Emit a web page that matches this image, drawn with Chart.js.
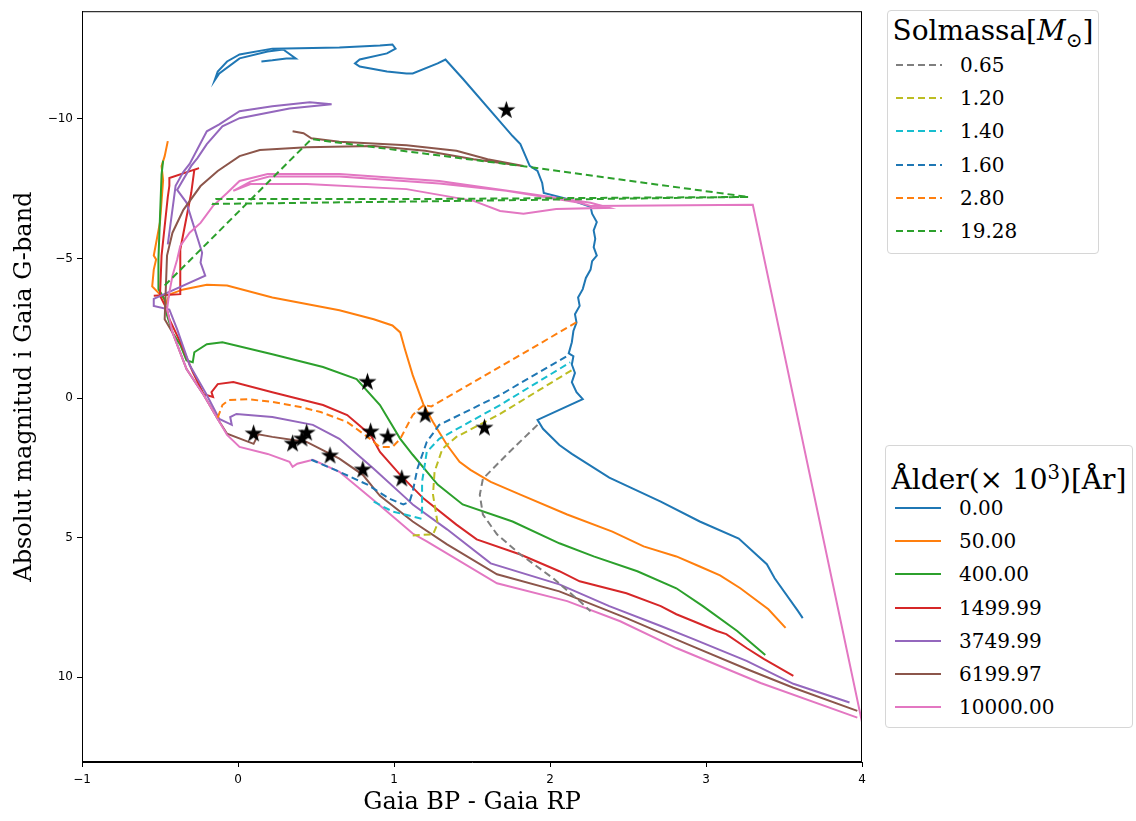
<!DOCTYPE html>
<html>
<head>
<meta charset="utf-8">
<script src="https://cdn.jsdelivr.net/npm/chart.js@4.4.1/dist/chart.umd.min.js"></script>
<style>
  body { margin: 0; background: #fff; width: 1136px; height: 821px; position: relative; overflow: hidden; font-family: 'DejaVu Serif', serif; }
  #wrap { position: absolute; left: 0; top: 0; width: 880px; height: 821px; }
  .legend { position: absolute; border: 1px solid #d6d6d6; border-radius: 4px; background: #fff; }
  .legend .title { position: absolute; left: 0; right: 0; text-align: center; font-size: 28px; line-height: 34px; white-space: nowrap; }
  .legend .row { position: absolute; height: 30px; display: flex; align-items: center; font-size: 20px; white-space: nowrap; }
  .legend .row svg { display: block; }
</style>
</head>
<body>
<div id="wrap"><canvas id="hrChart" width="880" height="821"></canvas></div>
<div class="legend" id="massLegend" style="left:887px; top:10px; width:210px; height:242px;">
  <div class="title" style="top:3px;">Solmassa[<i>M</i><sub style="font-size:0.72em">⊙</sub>]</div>
</div>
<div class="legend" id="ageLegend" style="left:885px; top:445px; width:246px; height:281px;">
  <div class="title" style="top:10px;">Ålder(× 10<sup style="font-size:0.7em">3</sup>)[År]</div>
</div>
<script>
// AXES
const xTicks = [-1, 0, 1, 2, 3, 4];
const yTicks = [-10, -5, 0, 5, 10];

// ISOCHRONES (x = BP-RP, y = M_G)
const ageLabels = ['0.00', '50.00', '400.00', '1499.99', '3749.99', '6199.97', '10000.00'];
const ageColors = ['#1f77b4', '#ff7f0e', '#2ca02c', '#d62728', '#9467bd', '#8c564b', '#e377c2'];

const age0 = [[3.62,7.88],[3.59,7.63],[3.44,6.45],[3.39,5.95],[3.21,5.03],[2.96,4.42],[2.71,3.71],[2.38,2.85],[2.14,2.0],[2.06,1.68],
  [1.955,1.10],[1.92,0.78],[2.21,0.04],[2.17,-0.21],[2.14,-0.57],[2.16,-0.9],[2.14,-1.2],[2.15,-1.5],[2.12,-1.6],[2.14,-2.0],
  [2.15,-2.4],[2.17,-2.7],[2.16,-3.0],[2.19,-3.3],[2.18,-3.6],[2.21,-3.9],[2.23,-4.3],[2.26,-4.6],[2.27,-4.9],[2.30,-5.1],
  [2.28,-5.4],[2.29,-5.7],[2.28,-6.0],[2.30,-6.3],[2.27,-6.6],[2.26,-6.85],[2.11,-7.13],[1.96,-7.34],[1.95,-7.70],[1.92,-8.13],
  [1.87,-8.31],[1.81,-9.09],[1.76,-9.38],[1.44,-11.44],[1.33,-12.12],[1.28,-11.98],[1.12,-11.62],[1.08,-11.62],[0.955,-11.69],
  [0.78,-11.87],[0.75,-11.98],[0.78,-12.12],[0.955,-12.34],[1.01,-12.51],[0.99,-12.66],[0.91,-12.62],[0.65,-12.55],[0.22,-12.51],
  [0.01,-12.30],[-0.07,-12.05],[-0.13,-11.69],[-0.15,-11.37],[-0.12,-11.62],[0.01,-12.16],[0.19,-12.41],[0.29,-12.48],
  [0.37,-12.16],[0.31,-12.16],[0.22,-12.09],[0.15,-12.05]];
const age50 = [[3.51,8.23],[3.40,7.56],[3.22,6.81],[3.09,6.35],[2.96,6.03],[2.81,5.67],[2.60,5.31],[2.40,4.78],[2.11,4.17],[1.81,3.46],
  [1.62,3.0],[1.49,2.57],[1.42,2.28],[1.34,1.68],[1.25,0.86],[1.19,0.25],[1.12,-0.82],[1.07,-1.75],[1.04,-2.35],[0.99,-2.60],
  [0.87,-2.82],[0.65,-3.14],[0.22,-3.60],[-0.07,-4.03],[-0.20,-4.06],[-0.35,-3.89],[-0.44,-3.71],[-0.46,-3.4],[-0.48,-3.6],
  [-0.55,-4.0],[-0.54,-4.6],[-0.525,-4.96],[-0.54,-5.1],[-0.50,-6.3],[-0.48,-7.8],[-0.49,-8.3],[-0.47,-8.66],[-0.45,-9.2]];
const age400 = [[3.38,9.2],[3.20,8.34],[2.98,7.45],[2.81,6.81],[2.56,6.20],[2.28,5.67],[2.06,5.20],[1.76,4.42],[1.44,3.81],[1.28,3.10],
  [1.12,2.03],[1.04,1.46],[0.91,0.25],[0.76,-0.68],[0.545,-1.11],[0.22,-1.57],[-0.10,-2.0],[-0.20,-1.93],[-0.28,-1.64],
  [-0.29,-1.28],[-0.33,-1.35],[-0.37,-1.9],[-0.42,-2.35],[-0.455,-2.96],[-0.47,-3.53],[-0.51,-3.9],[-0.51,-5.0],[-0.50,-6.5],
  [-0.49,-8.0],[-0.48,-8.5]];
const age1500 = [[3.56,9.95],[3.37,9.34],[3.26,8.95],[3.13,8.45],[3.07,8.34],[2.92,7.99],[2.81,7.74],[2.71,7.45],[2.49,6.99],[2.19,6.56],
  [2.06,6.20],[1.81,5.60],[1.53,5.06],[1.40,4.53],[1.19,3.60],[1.04,2.75],[0.91,1.93],[0.85,1.32],[0.70,0.61],[0.545,0.25],
  [0.22,-0.21],[-0.03,-0.57],[-0.13,-0.50],[-0.17,-0.21],[-0.16,-0.04],[-0.22,-0.14],[-0.29,-0.93],[-0.37,-2.0],[-0.44,-2.82],
  [-0.455,-3.17],[-0.5,-3.66],[-0.49,-5.1],[-0.45,-7.2],[-0.44,-7.6],[-0.44,-7.88],[-0.25,-8.23],[-0.28,-8.17],[-0.30,-7.34],
  [-0.37,-5.32],[-0.37,-3.72],[-0.54,-3.66]];
const age3750 = [[3.92,10.9],[3.56,10.23],[3.26,9.41],[2.92,8.63],[2.71,8.16],[2.38,7.45],[2.06,6.67],[1.62,5.92],[1.34,4.7],[1.12,3.81],
  [1.08,3.60],[0.87,2.53],[0.65,1.46],[0.48,0.96],[0.22,0.68],[-0.01,0.57],[-0.05,0.68],[-0.04,0.96],[-0.12,0.75],[-0.20,-0.11],
  [-0.31,-1.18],[-0.39,-2.46],[-0.44,-3.17],[-0.54,-3.3],[-0.54,-3.55],[-0.21,-4.38],[-0.24,-4.85],[-0.23,-5.2],[-0.31,-6.63],
  [-0.33,-7.0],[-0.39,-7.45],[-0.30,-8.31],[-0.26,-8.59],[-0.20,-9.09],[-0.10,-9.73],[0.01,-10.02],[0.33,-10.37],[0.60,-10.52],
  [0.46,-10.59],[0.22,-10.45],[0.01,-10.27],[-0.12,-9.80],[-0.20,-9.55],[-0.31,-8.38],[-0.35,-8.1],[-0.40,-7.6],[-0.45,-5.5]];
const age6200 = [[3.97,11.2],[3.56,10.37],[3.26,9.70],[2.88,8.81],[2.49,7.88],[2.06,6.92],[1.66,6.31],[1.34,5.24],[1.12,4.42],[0.91,3.5],
  [0.80,2.75],[0.65,2.17],[0.44,1.57],[0.22,1.39],[0.13,1.3],[0.10,1.64],[-0.07,1.28],[-0.13,0.75],[-0.22,-0.11],[-0.33,-1.04],
  [-0.42,-2.35],[-0.47,-2.82],[-0.455,-5.1],[-0.42,-5.92],[-0.35,-6.74],[-0.24,-7.59],[-0.13,-8.13],[0.01,-8.66],[0.14,-8.88],
  [0.44,-8.98],[0.87,-9.02],[1.20,-8.85],[1.51,-8.55],[1.83,-8.31],[1.60,-8.55],[1.40,-8.85],[1.08,-9.05],[0.65,-9.18],
  [0.47,-9.30],[0.42,-9.48],[0.35,-9.55]];
const age10000 = [[3.97,11.44],[3.35,10.20],[2.81,8.95],[2.45,7.99],[2.11,7.27],[1.66,6.63],[1.21,5.13],[1.12,4.85],[0.91,3.85],
  [0.65,2.64],[0.48,2.21],[0.38,2.35],[0.35,2.46],[0.33,2.28],[0.19,2.0],[0.01,1.75],[-0.07,1.32],[-0.13,0.75],[-0.22,-0.11],
  [-0.33,-1.04],[-0.42,-2.35],[-0.455,-3.17],[-0.44,-3.78],[-0.42,-4.38],[-0.39,-4.96],[-0.37,-5.45],[-0.31,-5.92],[-0.24,-6.27],
  [-0.16,-6.88],[-0.07,-7.34],[0.01,-7.77],[0.19,-8.02],[0.65,-8.02],[1.29,-7.77],[1.83,-7.34],[2.26,-6.99],[2.38,-6.81],
  [2.04,-6.77],[1.83,-6.60],[1.68,-6.70],[1.51,-7.06],[1.08,-7.48],[0.44,-7.66],[0.08,-7.66],[-0.03,-7.42],[0.08,-7.75],
  [0.2,-7.93],[0.65,-7.93],[1.29,-7.68],[1.72,-7.42],[2.19,-6.99],[2.26,-6.88],[3.30,-6.92],[4.0,11.6]];
const ageSeries = [age0, age50, age400, age1500, age3750, age6200, age10000];

// EVOLUTIONARY TRACKS (dashed)
const massLabels = ['0.65', '1.20', '1.40', '1.60', '2.80', '19.28'];
const massColors = ['#7f7f7f', '#bcbd22', '#17becf', '#1f77b4', '#ff7f0e', '#2ca02c'];

const m065 = [[1.92,0.96],[1.74,1.93],[1.57,2.89],[1.55,3.46],[1.57,4.17],[1.66,4.88],[1.81,5.60],[2.02,6.45],[2.19,7.27],[2.26,7.63]];
const m120 = [[1.12,4.92],[1.25,4.88],[1.28,4.5],[1.25,3.46],[1.26,2.64],[1.31,1.82],[1.40,1.39],[1.68,0.57],[2.14,-1.0]];
const m140 = [[0.87,3.71],[0.99,4.06],[1.17,4.31],[1.18,4.06],[1.18,3.0],[1.21,1.93],[1.29,1.46],[1.68,0.25],[2.13,-1.28]];
const m160 = [[0.47,2.21],[0.65,2.64],[0.83,3.10],[0.97,3.60],[1.06,3.81],[1.10,3.71],[1.12,3.35],[1.15,2.53],[1.21,1.57],
  [1.29,0.96],[1.68,-0.11],[2.13,-1.57]];
const m280 = [[-0.13,0.70],[-0.10,0.25],[-0.06,0.07],[0.06,0.04],[0.22,0.14],[0.40,0.32],[0.53,0.50],[0.70,0.86],[0.83,1.39],
  [0.91,1.75],[0.99,1.75],[1.04,1.46],[1.12,0.61],[1.15,0.45],[1.19,0.25],[1.24,0.3],[2.17,-2.71]];
const m1928 = [[-0.47,-4.03],[0.47,-9.27],[1.87,-8.27],[3.27,-7.20],[1.3,-7.05],[-0.16,-6.95],[-0.14,-7.13],[1.3,-7.13],[3.27,-7.20]];
const massSeries = [m065, m120, m140, m160, m280, m1928];

// STARS
const starX = [1.72, 0.83, 1.20, 1.58, 0.10, 0.44, 0.35, 0.41, 0.59, 0.80, 0.85, 0.96, 1.05];
const starY = [-10.30, -0.57, 0.61, 1.07, 1.28, 1.25, 1.64, 1.46, 2.07, 2.57, 1.21, 1.39, 2.89];

function toPoints(arr) { return arr.map(p => ({ x: p[0], y: p[1] })); }

function makeStar(r) {
    const c = document.createElement('canvas');
    const s = Math.ceil(r * 2 + 2);
    c.width = c.height = s;
    const g = c.getContext('2d');
    g.translate(s / 2, s / 2);
    g.beginPath();
    for (let i = 0; i < 10; i++) {
        const rad = i % 2 ? r * 0.382 : r;
        const a = -Math.PI / 2 + i * Math.PI / 5;
        g.lineTo(rad * Math.cos(a), rad * Math.sin(a));
    }
    g.closePath();
    g.fillStyle = '#000';
    g.fill();
    return c;
}

const datasets = [];
datasets.push({
    label: 'stars', data: starX.map((x, i) => ({ x, y: starY[i] })),
    showLine: false, pointStyle: makeStar(9.5), order: 0
});
massSeries.forEach((s, i) => datasets.push({
    label: massLabels[i], data: toPoints(s), showLine: true, borderColor: massColors[i],
    borderWidth: 2, borderDash: [7, 4], pointRadius: 0, tension: 0, order: 10 - i
}));
ageSeries.forEach((s, i) => datasets.push({
    label: ageLabels[i], data: toPoints(s), showLine: true, borderColor: ageColors[i],
    borderWidth: 2, pointRadius: 0, tension: 0, order: 30 - i
}));

// frame around the plot area
const frame = {
    id: 'frame',
    afterDraw(chart) {
        const { ctx, chartArea: a } = chart;
        ctx.save();
        ctx.strokeStyle = '#000';
        ctx.lineWidth = 1;
        ctx.strokeRect(a.left + 0.5, a.top + 0.5, a.right - a.left - 1, a.bottom - a.top - 1);
        ctx.restore();
    }
};

const minus = v => v < 0 ? '\u2212' + Math.abs(v) : String(v);

const ctx = document.getElementById('hrChart').getContext('2d');
new Chart(ctx, {
    type: 'scatter',
    data: { datasets },
    plugins: [frame],
    options: {
        responsive: false,
        animation: false,
        layout: { padding: { top: 8, right: 18, left: 0, bottom: 0 } },
        plugins: { legend: { display: false }, tooltip: { enabled: false } },
        scales: {
            x: {
                type: 'linear', min: -1, max: 4,
                afterBuildTicks: s => { s.ticks = xTicks.map(v => ({ value: v })); },
                afterFit: s => { s.height = 59; },
                grid: { drawOnChartArea: false, tickLength: 5, tickColor: '#000' },
                border: { color: '#000' },
                ticks: { font: { family: 'DejaVu Sans', size: 12 }, color: '#000', padding: 6, callback: minus, maxRotation: 0 },
                title: { display: true, text: 'Gaia BP - Gaia RP', font: { family: 'DejaVu Serif', size: 24 }, color: '#000', padding: { top: 0, bottom: 4 } }
            },
            y: {
                type: 'linear', reverse: true, min: -13.85, max: 13.03,
                afterBuildTicks: s => { s.ticks = yTicks.map(v => ({ value: v })); },
                afterFit: s => { s.width = 82; },
                grid: { drawOnChartArea: false, tickLength: 5, tickColor: '#000' },
                border: { color: '#000' },
                ticks: { font: { family: 'DejaVu Sans', size: 12 }, color: '#000', padding: 4, callback: minus },
                title: { display: true, text: 'Absolut magnitud i Gaia G-band', font: { family: 'DejaVu Serif', size: 24 }, color: '#000', padding: { top: 10, bottom: 0 } }
            }
        }
    }
});

// LEGENDS
function swatch(color, dashed) {
    const dash = dashed ? ' stroke-dasharray="7,4"' : '';
    return `<svg width="46" height="4"><line x1="0" y1="2" x2="46" y2="2" stroke="${color}" stroke-width="2"${dash}/></svg>`;
}
function buildLegend(el, labels, colors, dashed, firstRow, swLeft, txtLeft) {
    labels.forEach((lab, i) => {
        const row = document.createElement('div');
        row.className = 'row';
        row.style.left = swLeft + 'px';
        row.style.top = (firstRow + i * 33.2 - 15) + 'px';
        row.innerHTML = swatch(colors[i], dashed) + `<span style="margin-left:${txtLeft - swLeft - 46}px">${lab}</span>`;
        el.appendChild(row);
    });
}
buildLegend(document.getElementById('massLegend'), massLabels, massColors, true, 54, 8, 72);
buildLegend(document.getElementById('ageLegend'), ageLabels, ageColors, false, 62, 9, 73);
</script>
</body>
</html>
